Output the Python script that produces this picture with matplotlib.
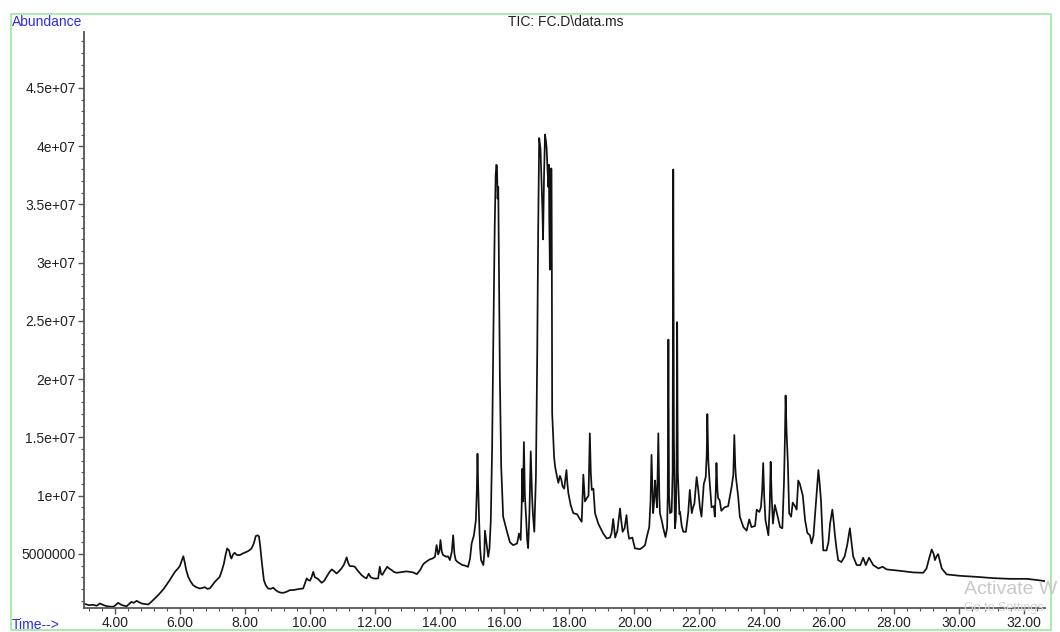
from matplotlib import pyplot as plt
from matplotlib.ticker import MultipleLocator
from matplotlib.patches import Rectangle
import numpy as np

tiempo = [3.05, 3.10, 3.20, 3.33, 3.44, 3.54, 3.64, 3.74, 3.85, 3.95, 4.02, 4.10, 4.18, 4.26, 4.36,
          4.44, 4.51, 4.58, 4.67, 4.75, 4.82, 4.92, 5.03, 5.13, 5.20, 5.28, 5.38, 5.49, 5.58, 5.69,
          5.77, 5.85, 5.93, 6.00, 6.06, 6.11, 6.15, 6.20, 6.26, 6.33, 6.41, 6.50, 6.62, 6.70, 6.77,
          6.85, 6.93, 7.00, 7.08, 7.15, 7.23, 7.30, 7.36, 7.41, 7.46, 7.52, 7.56, 7.59, 7.64, 7.69,
          7.76, 7.85, 7.95, 8.06, 8.14, 8.21, 8.28, 8.34, 8.40, 8.44, 8.48, 8.52, 8.56, 8.59, 8.65,
          8.72, 8.80, 8.88, 8.95, 9.03, 9.10, 9.19, 9.29, 9.39, 9.50, 9.60, 9.70, 9.80, 9.86, 9.91,
          9.96, 10.01, 10.06, 10.11, 10.16, 10.26, 10.37, 10.45, 10.52, 10.60, 10.68, 10.76, 10.83,
          10.90, 10.98, 11.06, 11.14, 11.19, 11.24, 11.32, 11.39, 11.50, 11.60, 11.68, 11.75, 11.82,
          11.88, 11.96, 12.04, 12.11, 12.16, 12.20, 12.24, 12.30, 12.39, 12.45, 12.53, 12.60, 12.68,
          12.78, 12.88, 12.98, 13.09, 13.20, 13.30, 13.40, 13.50, 13.60, 13.70, 13.78, 13.86, 13.91,
          13.96, 14.00, 14.03, 14.07, 14.11, 14.21, 14.26, 14.32, 14.38, 14.42, 14.46, 14.50, 14.56,
          14.63, 14.70, 14.78, 14.88, 14.94, 14.99, 15.06, 15.12, 15.15, 15.17, 15.19, 15.22, 15.25,
          15.28, 15.35, 15.38, 15.40, 15.45, 15.50, 15.54, 15.58, 15.62, 15.66, 15.70, 15.73, 15.75,
          15.77, 15.79, 15.81, 15.83, 15.86, 15.90, 15.96, 16.07, 16.17, 16.27, 16.39, 16.45, 16.50,
          16.53, 16.55, 16.57, 16.60, 16.63, 16.67, 16.70, 16.73, 16.77, 16.81, 16.85, 16.88, 16.92,
          16.97, 17.01, 17.04, 17.07, 17.11, 17.14, 17.17, 17.19, 17.22, 17.25, 17.28, 17.30, 17.33,
          17.35, 17.37, 17.38, 17.40, 17.42, 17.44, 17.45, 17.46, 17.47, 17.50, 17.53, 17.56, 17.60,
          17.66, 17.71, 17.75, 17.79, 17.84, 17.88, 17.91, 17.94, 17.97, 18.04, 18.12, 18.24, 18.32,
          18.38, 18.43, 18.48, 18.54, 18.59, 18.63, 18.66, 18.69, 18.74, 18.79, 18.89, 18.96, 19.04,
          19.15, 19.25, 19.30, 19.35, 19.41, 19.48, 19.56, 19.60, 19.64, 19.70, 19.76, 19.80, 19.84,
          19.94, 20.02, 20.10, 20.17, 20.25, 20.33, 20.38, 20.46, 20.50, 20.53, 20.56, 20.58, 20.61,
          20.64, 20.67, 20.70, 20.74, 20.77, 20.79, 20.85, 20.89, 20.96, 21.01, 21.03, 21.05, 21.07,
          21.10, 21.15, 21.18, 21.20, 21.22, 21.25, 21.28, 21.30, 21.32, 21.34, 21.39, 21.41, 21.46,
          21.51, 21.59, 21.66, 21.71, 21.77, 21.81, 21.85, 21.92, 21.97, 22.02, 22.07, 22.14, 22.20,
          22.23, 22.25, 22.28, 22.31, 22.38, 22.45, 22.48, 22.51, 22.53, 22.56, 22.58, 22.63, 22.68,
          22.78, 22.89, 23.00, 23.05, 23.08, 23.11, 23.13, 23.20, 23.25, 23.36, 23.46, 23.54, 23.61,
          23.72, 23.77, 23.85, 23.90, 23.94, 23.97, 24.00, 24.04, 24.13, 24.17, 24.20, 24.23, 24.27,
          24.33, 24.40, 24.49, 24.56, 24.61, 24.64, 24.66, 24.69, 24.73, 24.77, 24.83, 24.88, 24.95,
          25.00, 25.05, 25.10, 25.19, 25.26, 25.33, 25.41, 25.46, 25.52, 25.57, 25.62, 25.67, 25.71,
          25.75, 25.79, 25.82, 25.92, 25.98, 26.03, 26.10, 26.14, 26.18, 26.23, 26.28, 26.38, 26.48,
          26.56, 26.64, 26.69, 26.74, 26.85, 26.96, 27.05, 27.13, 27.23, 27.36, 27.52, 27.65, 27.77,
          28.18, 28.59, 28.90, 29.00, 29.08, 29.16, 29.22, 29.26, 29.31, 29.36, 29.42, 29.47, 29.62,
          30.03, 30.55, 31.06, 31.57, 32.09, 32.40, 32.65]

abund = [0.65, 0.69, 0.60, 0.63, 0.55, 0.75, 0.62, 0.52, 0.48, 0.46, 0.60, 0.80, 0.66, 0.57, 0.50,
         0.70, 0.88, 0.80, 0.97, 0.85, 0.75, 0.70, 0.66, 0.90, 1.10, 1.31, 1.60, 1.95, 2.30, 2.75,
         3.10, 3.46, 3.70, 3.95, 4.40, 4.80, 4.30, 3.60, 3.03, 2.65, 2.32, 2.15, 2.03, 2.08, 2.15,
         2.00, 2.05, 2.30, 2.60, 2.80, 3.03, 3.60, 4.18, 4.90, 5.47, 5.30, 4.80, 4.60, 4.95, 5.10,
         4.90, 4.90, 5.05, 5.18, 5.30, 5.47, 5.90, 6.53, 6.60, 6.50, 5.60, 4.47, 3.50, 2.75, 2.30,
         2.03, 2.00, 2.10, 1.90, 1.75, 1.68, 1.66, 1.75, 1.89, 1.90, 1.95, 2.00, 2.03, 2.50, 2.90,
         2.75, 2.70, 3.00, 3.46, 3.00, 2.85, 2.52, 2.70, 3.03, 3.40, 3.67, 3.50, 3.32,
         3.50, 3.75, 4.10, 4.70, 4.20, 3.95, 3.95, 3.90, 3.50, 3.18, 3.00, 2.90, 3.30,
         3.00, 2.90, 2.88, 2.90, 3.90, 3.30, 3.20, 3.50, 3.90, 3.75, 3.60, 3.45, 3.38,
         3.42, 3.46, 3.50, 3.46, 3.40, 3.26, 3.60, 4.12, 4.35, 4.53, 4.60, 4.75, 5.76,
         4.95, 5.30, 6.19, 5.20, 4.90, 4.75, 4.80, 4.47, 5.20, 6.60, 5.00, 4.47, 4.30,
         4.18, 4.05, 4.00, 3.89, 4.60, 5.90, 6.60, 7.90, 10.5, 13.6, 11.0, 7.90, 5.50,
         4.47, 4.04, 5.00, 7.00, 5.90, 4.75, 5.50, 7.90, 14.0, 24.0, 33.0, 37.5, 38.4,
         38.3, 35.5, 36.5, 30.0, 20.0, 12.5, 8.20, 7.00, 6.00, 5.75, 5.90, 6.75, 6.20,
         9.00, 12.3, 9.50, 14.6, 10.0, 8.00, 6.20, 5.50, 8.50, 13.8, 10.0, 8.30, 6.90,
         11.7, 22.2, 33.0, 40.7, 39.8, 37.1, 34.5, 32.0, 37.5, 41.0, 40.4, 39.8, 37.8,
         36.5, 38.4, 34.0, 29.4, 35.5, 38.1, 38.0, 30.0, 17.1, 15.1, 13.3, 12.5, 11.9,
         11.1, 11.7, 11.4, 10.8, 10.6, 11.5, 12.2, 11.0, 10.2, 9.20, 8.50, 8.40, 8.00,
         7.76, 11.8, 9.50, 9.80, 10.0, 15.35, 12.0, 10.5, 10.6, 8.50, 7.60, 7.20, 6.76,
         6.33, 6.40, 6.80, 8.00, 6.40, 7.00, 8.90, 7.80, 6.90, 7.20, 8.33, 7.00, 6.30,
         6.40, 5.47, 5.45, 5.40, 5.55, 5.75, 6.40, 7.30, 9.50, 13.5, 10.5, 8.50, 9.50,
         11.3, 10.0, 9.00, 15.35, 10.0, 8.50, 7.80, 7.24, 6.45, 7.20, 10.0, 23.4, 10.0,
         8.50, 8.60, 12.0, 38.0, 15.0, 7.20, 8.00, 12.0, 24.9, 12.0, 8.40, 8.60, 7.40,
         6.90, 6.90, 8.50, 10.5, 8.50, 9.00, 9.30, 11.6, 10.5, 9.00, 8.20, 11.0, 11.6,
         13.5, 17.0, 13.0, 11.6, 9.00, 9.10, 8.20, 10.5, 12.8, 10.5, 9.80, 9.60, 8.70,
         9.00, 9.10, 10.8, 11.8, 15.2, 12.5, 11.6, 9.90, 8.20, 7.30, 7.00, 7.96, 7.30,
         7.40, 8.80, 8.60, 9.00, 10.5, 12.8, 10.0, 7.90, 6.60, 9.00, 12.9, 10.0, 7.60,
         9.20, 8.40, 7.30, 7.20, 11.1, 15.0, 18.6, 15.5, 12.8, 8.50, 8.20, 9.40, 9.10,
         8.80, 11.3, 11.0, 10.0, 7.90, 6.80, 6.60, 5.90, 6.60, 8.50, 10.5, 12.2, 11.0,
         9.60, 7.00, 5.30, 5.30, 6.00, 7.60, 8.80, 7.80, 6.60, 5.40, 4.47, 4.30, 4.80,
         5.80, 7.20, 6.00, 4.80, 4.04, 4.04, 4.67, 4.04, 4.67, 4.04, 3.75, 3.90, 3.67,
         3.55, 3.41, 3.38, 3.75, 4.60, 5.38, 5.00, 4.47, 4.80, 4.98, 4.30, 3.75, 3.24,
         3.12, 3.03, 2.92, 2.86, 2.86, 2.76, 2.66]

xticks = np.arange(4, 33, 2)
yticks = [5e6, 1e7, 1.5e7, 2e7, 2.5e7, 3e7, 3.5e7, 4e7, 4.5e7]
ylabels = ['5000000', '1e+07', '1.5e+07', '2e+07', '2.5e+07', '3e+07', '3.5e+07', '4e+07', '4.5e+07']

plt.rcParams['font.family'] = ['Liberation Sans', 'DejaVu Sans']
W, H = 1060, 632
fig = plt.figure(figsize=(W / 100, H / 100), dpi=100)
ax = fig.add_axes([84 / W, 1 - 607.5 / H, (1045 - 84) / W, (607.5 - 32) / H])

ax.plot(tiempo, np.array(abund) * 1e6, color='#111111', lw=1.25)

ax.set_xlim(3.05, 32.65)
ax.set_ylim(0.4e6, 49.8e6)
ax.set_xticks(xticks)
ax.set_xticklabels(['%.2f' % t for t in xticks])
ax.xaxis.set_minor_locator(MultipleLocator(0.4))
ax.set_yticks(yticks)
ax.set_yticklabels(ylabels)
ax.yaxis.set_minor_locator(MultipleLocator(1e6))

for s in ['top', 'right']:
    ax.spines[s].set_visible(False)
for s in ['left', 'bottom']:
    ax.spines[s].set_color('#555555')
    ax.spines[s].set_linewidth(1.3)
ax.tick_params(which='major', direction='out', length=4, width=1, color='#555555',
               labelsize=10, labelcolor='#222222', pad=2)
ax.tick_params(which='minor', direction='out', length=2.5, width=0.8, color='#555555')

# green frame round the whole picture
fig.patches.append(Rectangle((11 / W, 1 - 630 / H), (1051 - 11) / W, (630 - 14) / H,
                             transform=fig.transFigure, fill=False, edgecolor='#9be89b', lw=1.2))

fig.text(12 / W, 1 - 22 / H, 'Abundance', color='#2b2bf0', fontsize=10, va='center', ha='left')
fig.text(12 / W, 1 - 625 / H, 'Time-->', color='#2b2bf0', fontsize=10, va='center', ha='left')
fig.text(566 / W, 1 - 22 / H, 'TIC: FC.D\\data.ms', color='#222222', fontsize=10, va='center', ha='center')

# windows watermark over the corner of the screenshot (kept inside the frame)
fig.text(964 / W, 1 - 590 / H, 'Activate W', color='#c9c9c9', fontsize=14, va='center', ha='left')
fig.text(964 / W, 1 - 608 / H, 'Go to Settings', color='#d4d4d4', fontsize=9, va='center', ha='left')

plt.savefig('out.png', dpi=100)
